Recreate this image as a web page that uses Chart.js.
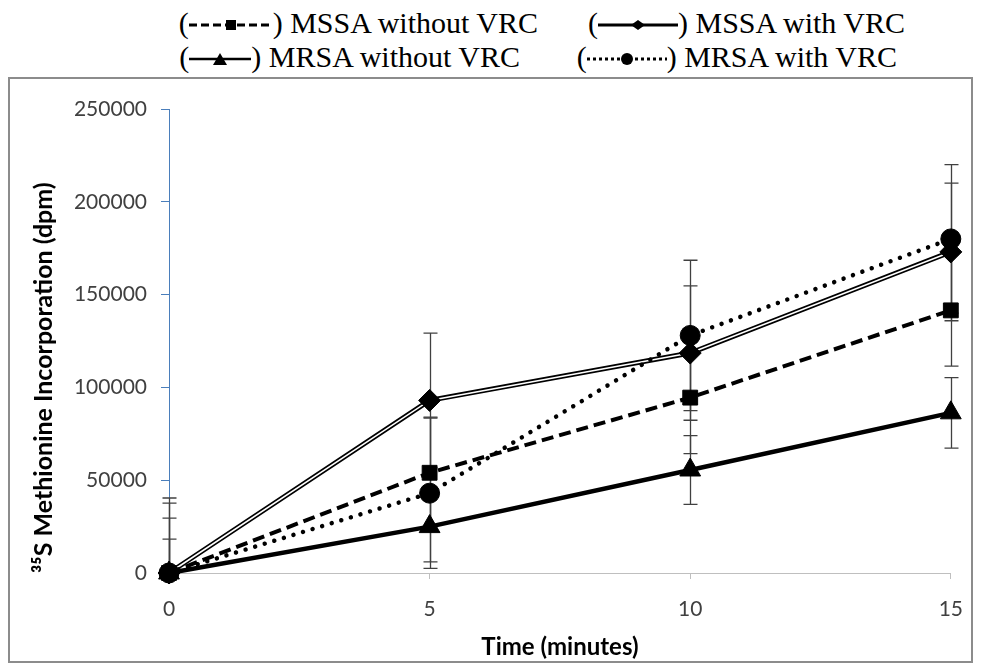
<!DOCTYPE html>
<html>
<head>
<meta charset="utf-8">
<script src="https://cdn.jsdelivr.net/npm/chart.js@4.4.1/dist/chart.umd.min.js"></script>
<style>
  html, body { margin: 0; padding: 0; background: #fff; }
  body { width: 981px; height: 665px; position: relative; overflow: hidden; }
  #frame { position: absolute; left: 8px; top: 77px; width: 961px; height: 582px; border: 2px solid #8c8c8c; }
  #chart { position: absolute; left: 0; top: 0; }
  .leg { position: absolute; font-family: "Liberation Serif", "Times New Roman", serif; font-size: 30px; line-height: 30px; color: #000; white-space: nowrap; }
  .leg svg { vertical-align: -2px; }
</style>
</head>
<body>
<div id="frame"></div>
<div class="leg" style="right:443px; top:8px">(<svg width="84" height="20"><line x1="0" y1="10" x2="84" y2="10" stroke="#000" stroke-width="3" stroke-dasharray="8,4"/><rect x="37" y="5" width="10" height="10" fill="#000"/></svg>) MSSA without VRC</div>
<div class="leg" style="right:76px; top:8px">(<svg width="80" height="20"><line x1="0" y1="10" x2="80" y2="10" stroke="#000" stroke-width="3"/><polygon points="33,10 40,5 47,10 40,15" fill="#000"/></svg>) MSSA with VRC</div>
<div class="leg" style="right:461px; top:42px">(<svg width="62" height="20"><line x1="0" y1="10" x2="62" y2="10" stroke="#000" stroke-width="2.5"/><polygon points="24,16 31,4 38,16" fill="#000"/></svg>) MRSA without VRC</div>
<div class="leg" style="right:84px; top:42px">(<svg width="80" height="20"><line x1="0" y1="10" x2="80" y2="10" stroke="#000" stroke-width="3" stroke-dasharray="3,3"/><circle cx="40" cy="10" r="6" fill="#000"/></svg>) MRSA with VRC</div>
<canvas id="chart" width="981" height="665"></canvas>
<script>
const times = [0, 5, 10, 15];
const xTickLabels = ["0", "5", "10", "15"];
const yTickLabels = ["0", "50000", "100000", "150000", "200000", "250000"];

const mssaWithout = [0, 54000, 94500, 141500];
const mssaWithoutErr = [29600, 30000, 30200, 30000];
const mssaWith = [0, 93000, 118500, 173000];
const mssaWithErr = [37700, 36200, 36200, 37100];
const mrsaWithout = [0, 25000, 55500, 86300];
const mrsaWithoutErr = [18300, 19000, 18500, 19000];
const mrsaWith = [0, 43000, 128000, 180000];
const mrsaWithErr = [40400, 40500, 40500, 40000];

function pts(vals) {
  return vals.map((v, i) => ({ x: times[i], y: v }));
}

const errSeries = [
  { vals: mrsaWith, err: mrsaWithErr },
  { vals: mssaWith, err: mssaWithErr },
  { vals: mssaWithout, err: mssaWithoutErr },
  { vals: mrsaWithout, err: mrsaWithoutErr }
];

// error bars go under the lines and markers
const errorBars = {
  id: "errorBars",
  beforeDatasetsDraw(chart) {
    const { ctx, chartArea, scales: { x, y } } = chart;
    ctx.save();
    ctx.beginPath();
    ctx.rect(0, chartArea.top - 30, chart.width, chartArea.bottom - chartArea.top + 30);
    ctx.clip();
    ctx.strokeStyle = "#404040";
    ctx.lineWidth = 1.3;
    errSeries.forEach(s => {
      s.vals.forEach((v, i) => {
        const px = Math.round(x.getPixelForValue(times[i])) + 0.5;
        const top = y.getPixelForValue(v + s.err[i]);
        const bot = y.getPixelForValue(v - s.err[i]);
        ctx.beginPath();
        ctx.moveTo(px, top);
        ctx.lineTo(px, bot);
        ctx.moveTo(px - 7, top);
        ctx.lineTo(px + 7, top);
        ctx.moveTo(px - 7, bot);
        ctx.lineTo(px + 7, bot);
        ctx.stroke();
      });
    });
    ctx.restore();
  }
};

const tickFont = { family: "Lato", size: 21 };

new Chart(document.getElementById("chart"), {
  type: "line",
  data: {
    datasets: [
      { label: "MSSA with VRC", data: pts(mssaWith), borderColor: "#000", borderWidth: 5, pointRadius: 0, order: 6, clip: false },
      { label: "inner", data: pts(mssaWith), borderColor: "#fff", borderWidth: 1.6, pointRadius: 0, order: 5, clip: false },
      { label: "MSSA with VRC marks", data: pts(mssaWith), showLine: false, pointStyle: "rectRot", pointRadius: 11,
        pointBackgroundColor: "#000", pointBorderColor: "#000", pointBorderWidth: 1, order: 1, clip: false },
      { label: "MSSA without VRC", data: pts(mssaWithout), borderColor: "#000", borderWidth: 4, borderDash: [12, 6],
        pointStyle: "rect", pointRadius: 10.5, pointBackgroundColor: "#000", pointBorderColor: "#000", pointBorderWidth: 1, order: 2, clip: false },
      { label: "MRSA without VRC", data: pts(mrsaWithout), borderColor: "#000", borderWidth: 4.5,
        pointStyle: "triangle", pointRadius: 12, pointBackgroundColor: "#000", pointBorderColor: "#000", pointBorderWidth: 1, order: 3, clip: false },
      { label: "MRSA with VRC", data: pts(mrsaWith), borderColor: "#000", borderWidth: 4.5, borderDash: [0.01, 10], borderCapStyle: "round",
        pointStyle: "circle", pointRadius: 10, pointBackgroundColor: "#000", pointBorderColor: "#000", pointBorderWidth: 1, order: 4, clip: false }
    ]
  },
  options: {
    responsive: false,
    animation: false,
    layout: { padding: { left: 0, right: 22, top: 109, bottom: 0 } },
    plugins: { legend: { display: false }, tooltip: { enabled: false } },
    scales: {
      x: {
        type: "linear", min: 0, max: 15,
        ticks: { stepSize: 5, padding: 18, color: "#404040", font: tickFont, maxRotation: 0,
          callback: (v, i) => xTickLabels[i] },
        border: { color: "#bfbfbf", width: 1 },
        grid: { drawOnChartArea: false, tickLength: 6, color: "#bfbfbf" },
        title: { display: true, text: "Time (minutes)", color: "#000", font: { family: "Lato", size: 24, weight: "bold" }, padding: { top: 0, bottom: 3 } },
        afterFit(s) { s.height = 92; }
      },
      y: {
        min: 0, max: 250000,
        ticks: { stepSize: 50000, padding: 14, color: "#404040", font: tickFont,
          callback: (v, i) => yTickLabels[i] },
        border: { color: "#4a7ebb", width: 1 },
        grid: { drawOnChartArea: false, tickLength: 8, color: "#4a7ebb" },
        title: { display: true, text: "³⁵S Methionine Incorporation (dpm)", align: "start", color: "#000", font: { family: "Lato", size: 25, weight: "bold" }, padding: { top: 29, bottom: 0 } },
        afterFit(s) { s.width = 169; }
      }
    }
  },
  plugins: [errorBars]
});
</script>
</body>
</html>
